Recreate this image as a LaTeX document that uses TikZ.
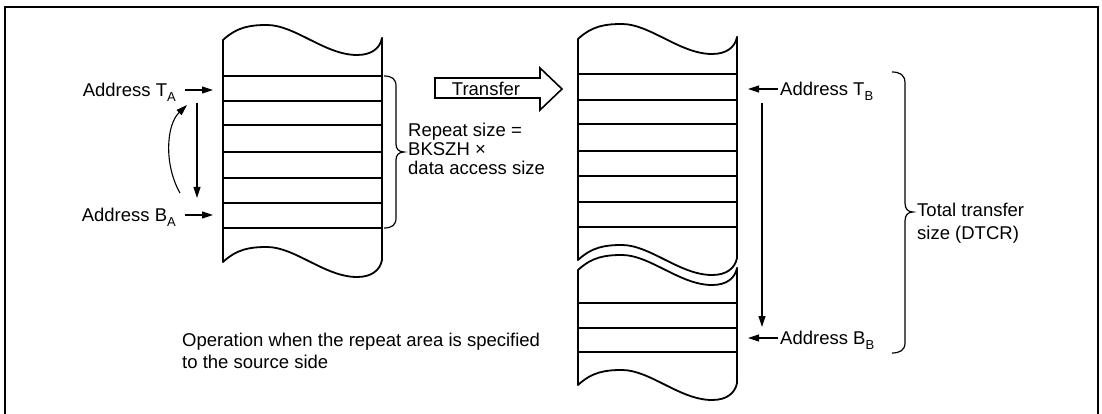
\documentclass[tikz,border=0pt]{standalone}
\usepackage{fontspec}
\setmainfont{Liberation Sans}
\usetikzlibrary{arrows.meta}
\newcommand\mysub[1]{\raisebox{-0.28em}{\fontsize{13}{13}\selectfont #1}}
\tikzset{
  colline/.style={line width=1.8pt, line cap=round, line join=round},
  rowline/.style={line width=1.6pt},
  arr/.style={line width=1.1pt, -{Triangle[length=11pt,width=7pt]}},
  bracestyle/.style={line width=1.2pt},
  lbl/.style={font=\fontsize{18.5}{22}\selectfont, inner sep=0pt},
  wave/.pic={\draw[colline] (0,0) .. controls (14,-13) and (27,-15) .. (44,-15) .. controls (72,-15) and (102,15) .. (134,15) .. controls (149,15) and (157,8) .. (159,-2);}
}
\begin{document}
\begin{tikzpicture}[x=1pt,y=-1pt]
\useasboundingbox (0,0) rectangle (1102,414);
% frame
\draw[line width=2pt] (5,414) -- (5,7.3) -- (1098,7.3) -- (1098,414);

% column A
\pic at (223,40) {wave};
\pic at (223,262) {wave};
\draw[colline] (223,40) -- (223,262);
\draw[colline] (382,38) -- (382,260);
\foreach \y in {76,101,125,152,178,203,228} \draw[rowline] (223,\y) -- (382,\y);

% column B
\pic at (578,39) {wave};
\pic at (578,260) {wave};
\pic at (578,270) {wave};
\pic at (578,385) {wave};
\draw[colline] (578,39) -- (578,260);
\draw[colline] (737,37) -- (737,258);
\draw[colline] (578,270) -- (578,385);
\draw[colline] (737,268) -- (737,383);
\foreach \y in {74,100,124,151,176,202,227,303,328,352} \draw[rowline] (578,\y) -- (737,\y);

% left labels and arrows
\node[lbl, anchor=base east] (lta) at (176,96.5) {Address T\mysub{A}};
\node[lbl, anchor=base east] (lba) at (176,221.5) {Address B\mysub{A}};
\coordinate (taS) at (185,90); \coordinate (taE) at (213,90);
\coordinate (baS) at (185,215); \coordinate (baE) at (213,215);
\draw[arr] (taS) -- (taE);
\draw[arr] (baS) -- (baE);
\coordinate (dS) at (197,103); \coordinate (dE) at (197,198);
\draw[arr] (dS) -- (dE);
\coordinate (cS) at (180,193); \coordinate (cE) at (187,105);
\draw[arr] (cS) .. controls (164,165) and (166,125) .. (cE);

% left brace and text
\draw[bracestyle] (384,76) .. controls (392,76) and (396,79) .. (396,86) -- (396,144) .. controls (396,149) and (399,152) .. (404,152) .. controls (399,152) and (396,155) .. (396,160) -- (396,218) .. controls (396,225) and (392,228) .. (384,228);
\node[lbl, anchor=base west] (r1) at (408,137) {Repeat size =};
\node[lbl, anchor=base west] (r2) at (408,156) {BKSZH ×};
\node[lbl, anchor=base west] (r3) at (408,175) {data access size};

% transfer arrow
\node[lbl, anchor=base] (tr) at (486,95.5) {Transfer};
\draw[line width=1.6pt, line join=miter] (435,78) -- (540,78) -- (540,68) -- (562,89) -- (540,110) -- (540,98) -- (435,98) -- cycle;

% right labels and arrows
\node[lbl, anchor=base west] (ltb) at (780,95.5) {Address T\mysub{B}};
\node[lbl, anchor=base west] (lbb) at (780,344.5) {Address B\mysub{B}};
\coordinate (tbS) at (778,89); \coordinate (tbE) at (748,89);
\coordinate (bbS) at (778,338); \coordinate (bbE) at (748,338);
\draw[arr] (tbS) -- (tbE);
\draw[arr] (bbS) -- (bbE);
\coordinate (d2S) at (762,103); \coordinate (d2E) at (762,327);
\draw[arr] (d2S) -- (d2E);

% right brace and text
\draw[bracestyle] (892,72) .. controls (900,72) and (905,75) .. (905,83) -- (905,203) .. controls (905,209) and (908,212) .. (913,212) .. controls (908,212) and (905,215) .. (905,221) -- (905,343) .. controls (905,350) and (900,353) .. (892,353);
\node[lbl, anchor=base west] (t1) at (917,216.5) {Total transfer};
\node[lbl, anchor=base west] (t2) at (917,239.5) {size (DTCR)};

% bottom text
\node[lbl, anchor=base west] (o1) at (182,346.5) {Operation when the repeat area is specified};
\node[lbl, anchor=base west] (o2) at (182,368.5) {to the source side};
\end{tikzpicture}
\end{document}
